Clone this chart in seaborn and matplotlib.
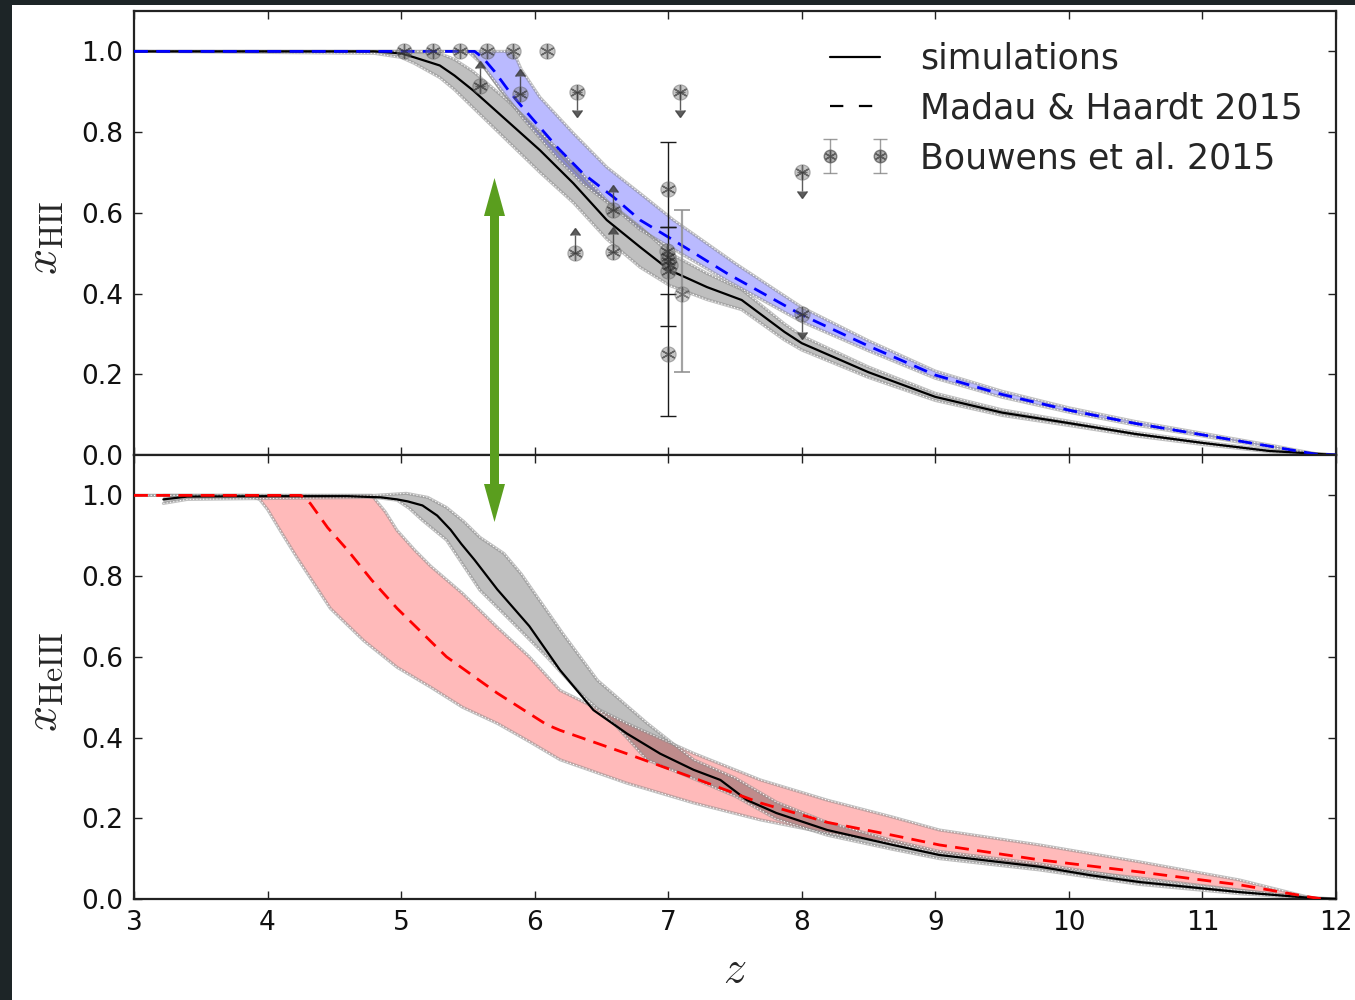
import numpy as np
import matplotlib
matplotlib.use("Agg")
import matplotlib.pyplot as plt
import seaborn as sns
from matplotlib.lines import Line2D
from matplotlib.patches import Rectangle, FancyArrow
from matplotlib.legend_handler import HandlerTuple

# ---------------- hydrogen (x_HII) ----------------
z_hii_sim = [3.0, 4.8, 5.0, 5.1, 5.29, 5.4, 5.54, 5.79, 6.04, 6.29, 6.54, 6.79, 7.01,
             7.29, 7.55, 7.87, 8.0, 8.5, 9.0, 9.5, 10.0, 10.5, 11.0, 11.5, 12.0]
hii_sim = [1.0, 1.0, 0.995, 0.985, 0.965, 0.94, 0.903, 0.829, 0.755, 0.673, 0.582, 0.515, 0.458,
           0.416, 0.384, 0.305, 0.277, 0.205, 0.144, 0.105, 0.079, 0.052, 0.03, 0.01, 0.0]
hii_sim_hi = [1.0, 1.0, 1.0, 0.998, 0.995, 0.98, 0.95, 0.88, 0.80, 0.72, 0.63, 0.565, 0.50,
              0.45, 0.41, 0.325, 0.295, 0.218, 0.153, 0.112, 0.084, 0.056, 0.033, 0.012, 0.0]
hii_sim_lo = [1.0, 0.995, 0.985, 0.97, 0.935, 0.905, 0.86, 0.78, 0.70, 0.625, 0.535, 0.465, 0.42,
              0.385, 0.36, 0.285, 0.26, 0.192, 0.135, 0.098, 0.073, 0.047, 0.026, 0.008, 0.0]
z_hii_run = [5.54, 5.74, 6.11, 6.41, 6.79, 7.04]
hii_run = [0.995, 0.903, 0.772, 0.664, 0.565, 0.50]

z_hii_mh = [3.0, 5.55, 5.61, 5.7, 5.8, 5.91, 6.17, 6.36, 6.59, 6.79, 7.04, 7.44, 8.0,
            8.5, 9.0, 9.5, 10.0, 10.5, 11.0, 11.5, 11.85, 12.0]
hii_mh = [1.0, 1.0, 0.985, 0.95, 0.905, 0.861, 0.762, 0.698, 0.639, 0.582, 0.532, 0.45, 0.347,
          0.27, 0.198, 0.15, 0.111, 0.078, 0.05, 0.022, 0.002, 0.0]
z_hii_mh_hi = [3.0, 5.82, 5.86, 5.9, 6.04, 6.29, 6.54, 6.79, 7.04, 7.5, 8.0, 8.5, 9.0, 9.5,
               10.0, 10.5, 11.0, 11.5, 11.85, 12.0]
hii_mh_hi = [1.0, 1.0, 0.985, 0.955, 0.886, 0.797, 0.713, 0.648, 0.582, 0.475, 0.366, 0.283,
             0.208, 0.158, 0.117, 0.083, 0.054, 0.025, 0.003, 0.0]
z_hii_mh_lo = [3.0, 5.5, 5.6, 5.91, 6.17, 6.36, 6.59, 6.79, 7.04, 7.44, 8.0, 8.5, 9.0,
               9.5, 10.0, 10.5, 11.0, 11.5, 11.85, 12.0]
hii_mh_lo = [1.0, 1.0, 0.97, 0.835, 0.735, 0.672, 0.614, 0.558, 0.51, 0.432, 0.33, 0.258,
             0.19, 0.143, 0.106, 0.074, 0.047, 0.019, 0.001, 0.0]

# Bouwens et al. 2015 constraints
bw_z_plain = [5.02, 5.24, 5.44, 5.64, 5.84, 6.09, 6.99, 7.0, 7.01, 7.0]
bw_v_plain = [1.0, 1.0, 1.0, 1.0, 1.0, 1.0, 0.505, 0.49, 0.47, 0.455]
bw_z_lower = [5.59, 5.89, 6.30, 6.59, 6.59]
bw_v_lower = [0.915, 0.895, 0.50, 0.503, 0.607]
bw_z_upper = [6.32, 7.09, 8.0, 8.0]
bw_v_upper = [0.90, 0.90, 0.70, 0.35]
bw_z_meas = [7.0, 7.0, 7.0]
bw_v_meas = [0.66, 0.48, 0.25]
bw_meas_lo = [0.565, 0.32, 0.097]
bw_meas_hi = [0.775, 0.565, 0.40]
bw_z_faint = [7.1]
bw_v_faint = [0.40]
bw_faint_lo = [0.205]
bw_faint_hi = [0.606]

# ---------------- helium (x_HeIII) ----------------
z_heiii_sim = [3.22, 3.4, 4.0, 4.6, 4.85, 4.97, 5.05, 5.16, 5.27, 5.37, 5.45, 5.55, 5.72,
               5.96, 6.19, 6.44, 6.69, 6.94, 7.19, 7.39, 7.59, 7.81, 8.19, 8.68, 9.03,
               9.78, 10.16, 10.53, 11.28, 11.8, 12.0]
heiii_sim = [0.99, 0.997, 0.998, 0.998, 0.995, 0.99, 0.985, 0.975, 0.95, 0.915, 0.88, 0.84,
             0.767, 0.676, 0.567, 0.468, 0.41, 0.36, 0.32, 0.295, 0.245, 0.213, 0.171,
             0.134, 0.109, 0.08, 0.059, 0.042, 0.017, 0.003, 0.0]
z_heiii_sim_hi = [3.22, 3.4, 4.8, 5.04, 5.2, 5.34, 5.47, 5.59, 5.77, 5.9, 6.02, 6.21, 6.47,
                  6.84, 7.19, 7.5, 7.81, 8.19, 8.68, 9.03, 9.78, 10.53, 11.28, 11.8, 12.0]
heiii_sim_hi = [1.0, 1.0, 1.0, 1.005, 0.995, 0.97, 0.935, 0.896, 0.856, 0.805, 0.748, 0.658,
                0.542, 0.436, 0.345, 0.30, 0.24, 0.19, 0.145, 0.118, 0.087, 0.048, 0.021,
                0.004, 0.0]
z_heiii_sim_lo = [3.22, 3.4, 4.8, 4.97, 5.06, 5.16, 5.34, 5.59, 5.84, 6.09, 6.34, 6.59,
                  6.84, 7.19, 7.5, 7.81, 8.19, 8.68, 9.03, 9.78, 10.53, 11.28, 11.8, 12.0]
heiii_sim_lo = [0.98, 0.99, 0.995, 0.988, 0.968, 0.938, 0.889, 0.765, 0.683, 0.60, 0.51,
                0.436, 0.345, 0.298, 0.255, 0.198, 0.158, 0.123, 0.10, 0.072, 0.036,
                0.013, 0.002, 0.0]

z_heiii_mh = [3.0, 4.25, 4.32, 4.45, 4.6, 4.78, 4.97, 5.34, 5.72, 6.09, 6.19, 6.69, 7.19,
              7.69, 8.19, 8.68, 9.03, 9.78, 10.53, 11.28, 11.8, 11.9]
heiii_mh = [1.0, 1.0, 0.98, 0.92, 0.864, 0.79, 0.72, 0.60, 0.51, 0.432, 0.418, 0.36, 0.30,
            0.238, 0.19, 0.158, 0.134, 0.097, 0.067, 0.035, 0.005, 0.0]
z_heiii_mh_hi = [3.0, 4.78, 4.88, 4.97, 5.1, 5.22, 5.46, 5.72, 5.96, 6.19, 6.69, 7.19,
                 7.69, 8.19, 8.68, 9.03, 9.78, 10.53, 11.28, 11.85, 12.0]
heiii_mh_hi = [1.0, 1.0, 0.96, 0.913, 0.865, 0.825, 0.757, 0.673, 0.60, 0.517, 0.435, 0.361,
               0.295, 0.245, 0.203, 0.171, 0.134, 0.092, 0.047, 0.0, 0.0]
z_heiii_mh_lo = [3.0, 3.85, 3.94, 4.0, 4.1, 4.22, 4.47, 4.72, 4.97, 5.22, 5.46, 5.72, 5.96,
                 6.19, 6.69, 7.19, 7.69, 8.19, 8.68, 9.03, 9.78, 10.53, 11.28, 11.8, 12.0]
heiii_mh_lo = [1.0, 1.0, 0.99, 0.965, 0.91, 0.846, 0.72, 0.64, 0.574, 0.525, 0.475, 0.435,
               0.39, 0.345, 0.287, 0.238, 0.196, 0.163, 0.139, 0.114, 0.08, 0.052, 0.022,
               0.002, 0.0]

x_ticks = [3, 4, 5, 6, 7, 8, 9, 10, 11, 12]
y_ticks = [0.0, 0.2, 0.4, 0.6, 0.8, 1.0]
legend_labels = ["simulations", "Madau & Haardt 2015", "Bouwens et al. 2015"]

# ---------------- style ----------------
sns.set_style("ticks")
plt.rcParams.update({
    "font.family": ["DejaVu Sans"],
    "mathtext.fontset": "cm",
    "xtick.direction": "in", "ytick.direction": "in",
    "xtick.top": True, "ytick.right": True,
    "xtick.bottom": True, "ytick.left": True,
    "xtick.major.size": 6, "ytick.major.size": 6,
    "xtick.major.width": 1.0, "ytick.major.width": 1.0,
    "xtick.minor.visible": False, "ytick.minor.visible": False,
    "axes.linewidth": 1.6, "axes.edgecolor": "#222222",
    "xtick.color": "#222222", "ytick.color": "#222222",
    "xtick.labelcolor": "#111111", "ytick.labelcolor": "#111111",
    "xtick.labelsize": 19, "ytick.labelsize": 19,
    "xtick.major.pad": 8, "ytick.major.pad": 8,
    "axes.grid": False,
})

fig = plt.figure(figsize=(13.55, 10.0), dpi=100, facecolor="white")
ax_top = fig.add_axes([134 / 1355, 0.545, 1202 / 1355, 0.444])
ax_bot = fig.add_axes([134 / 1355, 0.101, 1202 / 1355, 0.444], sharex=ax_top)

DASH = (0, (5, 3))
STAR = (6, 2, 0)


def band(ax, z_hi, v_hi, z_lo, v_lo, color, alpha):
    zz = np.r_[z_hi, z_lo[::-1]]
    vv = np.r_[v_hi, v_lo[::-1]]
    ax.fill(zz, vv, color=color, alpha=alpha, lw=0, zorder=1)
    for z, v in ((z_hi, v_hi), (z_lo, v_lo)):
        sns.lineplot(x=z, y=v, ax=ax, color="0.55", lw=2.2, alpha=0.55,
                     estimator=None, sort=False, zorder=2)
        sns.lineplot(x=z, y=v, ax=ax, color="white", lw=0.8, linestyle=(0, (1, 2)),
                     estimator=None, sort=False, zorder=2)


def markers(ax, z, v, zorder=5, alpha=1.0):
    sns.scatterplot(x=z, y=v, ax=ax, marker="o", s=120, color="0.5", alpha=0.45 * alpha,
                    edgecolor="0.35", linewidth=0.8, zorder=zorder, legend=False)
    sns.scatterplot(x=z, y=v, ax=ax, marker=STAR, s=90, color="0.15", alpha=0.6 * alpha,
                    linewidth=1.0, zorder=zorder + 0.1, legend=False)


# ---------------- top panel ----------------
band(ax_top, z_hii_sim, hii_sim_hi, z_hii_sim, hii_sim_lo, "black", 0.25)
band(ax_top, z_hii_mh_hi, hii_mh_hi, z_hii_mh_lo, hii_mh_lo, "blue", 0.27)
sns.lineplot(x=z_hii_run, y=hii_run, ax=ax_top, color="0.55", lw=1.0, alpha=0.8,
             estimator=None, sort=False, zorder=2)
sns.lineplot(x=z_hii_sim, y=hii_sim, ax=ax_top, color="black", lw=1.6,
             estimator=None, sort=False, zorder=3)
sns.lineplot(x=z_hii_mh, y=hii_mh, ax=ax_top, color="blue", lw=2.0, linestyle=DASH,
             estimator=None, sort=False, zorder=3.5)

# observational constraints
vm = np.array(bw_v_meas)
ax_top.errorbar(bw_z_meas, vm, yerr=[vm - np.array(bw_meas_lo), np.array(bw_meas_hi) - vm],
                fmt="none", ecolor="0.1", elinewidth=1.0, capsize=6, capthick=1.0, zorder=4)
vf = np.array(bw_v_faint)
ax_top.errorbar(bw_z_faint, vf, yerr=[vf - np.array(bw_faint_lo), np.array(bw_faint_hi) - vf],
                fmt="none", ecolor="0.55", elinewidth=1.6, capsize=6, capthick=1.4,
                alpha=0.8, zorder=4)
for zs, vs, key in ((bw_z_lower, bw_v_lower, "lolims"), (bw_z_upper, bw_v_upper, "uplims")):
    eb = ax_top.errorbar(zs, vs, yerr=0.045, fmt="none", color="0.25", ecolor="0.25",
                         elinewidth=1.0, capsize=3.5, alpha=0.85, zorder=4, **{key: True})
    for cap in eb[1]:
        cap.set_color("0.25")
        cap.set_markerfacecolor("0.25")
        cap.set_markeredgecolor("0.25")
markers(ax_top, bw_z_plain, bw_v_plain)
markers(ax_top, bw_z_lower, bw_v_lower)
markers(ax_top, bw_z_upper, bw_v_upper)
markers(ax_top, bw_z_meas, bw_v_meas)
markers(ax_top, bw_z_faint, bw_v_faint, alpha=0.8)

# ---------------- bottom panel ----------------
band(ax_bot, z_heiii_mh_hi, heiii_mh_hi, z_heiii_mh_lo, heiii_mh_lo, "red", 0.27)
band(ax_bot, z_heiii_sim_hi, heiii_sim_hi, z_heiii_sim_lo, heiii_sim_lo, "black", 0.25)
sns.lineplot(x=z_heiii_sim, y=heiii_sim, ax=ax_bot, color="black", lw=1.6,
             estimator=None, sort=False, zorder=3)
sns.lineplot(x=z_heiii_mh, y=heiii_mh, ax=ax_bot, color="red", lw=2.0, linestyle=DASH,
             estimator=None, sort=False, zorder=3.5)

# ---------------- axes ----------------
for ax in (ax_top, ax_bot):
    ax.set_xlim(3, 12)
    ax.set_ylim(0, 1.1)
    ax.set_xticks(x_ticks)
    ax.set_yticks(y_ticks)
    ax.set_yticklabels([f"{t:.1f}" for t in y_ticks])
    for side in ("top", "right", "left", "bottom"):
        ax.spines[side].set_visible(True)
    ax.set_xlabel("")
plt.setp(ax_top.get_xticklabels(), visible=False)
ax_bot.set_xticklabels([str(t) for t in x_ticks])

ax_top.set_ylabel(r"$x_{\rm HII}$", fontsize=33)
ax_bot.set_ylabel(r"$x_{\rm HeIII}$", fontsize=33)
ax_top.yaxis.set_label_coords(-0.056, 0.49)
ax_bot.yaxis.set_label_coords(-0.056, 0.49)
ax_bot.set_xlabel(r"$z$", fontsize=33)
ax_bot.xaxis.set_label_coords(0.5, -0.109)

# ---------------- legend ----------------
h_sim = Line2D([], [], color="black", lw=1.6)
h_mh = Line2D([], [], color="black", lw=1.6, linestyle=(0, (6, 7)))
h_bw = ax_top.errorbar([np.nan], [np.nan], yerr=[0.05], fmt="o", color="0.45", mfc="0.55",
                       mec="0.3", ms=9, alpha=0.7, elinewidth=1.0, capsize=5)
h_bw_star = Line2D([], [], ls="none", marker=STAR, ms=8, mew=1.0, color="0.15", alpha=0.6)
ax_top.legend([h_sim, h_mh, (h_bw, h_bw_star)], legend_labels, loc="upper right",
              bbox_to_anchor=(1.0, 1.005), frameon=False,
              fontsize=25, numpoints=2, handlelength=2.05, handletextpad=0.85,
              labelspacing=0.45, borderaxespad=0.55,
              handler_map={tuple: HandlerTuple(ndivide=1, pad=0)})

# ---------------- annotation arrow ----------------
arrow_mid = (8.22 + 4.78) / 2
for tip in (8.22, 4.78):
    fig.add_artist(FancyArrow(4.945, arrow_mid, 0, tip - arrow_mid, width=0.09,
                              head_width=0.21, head_length=0.38, length_includes_head=True,
                              transform=fig.dpi_scale_trans, color="#5a9e1e", lw=0,
                              zorder=20))

# dark page edges
fig.add_artist(Rectangle((0, 0), 12 / 1355, 1, transform=fig.transFigure,
                         color="#1d2527", lw=0, zorder=30))
fig.add_artist(Rectangle((0, 1 - 5 / 1000), 1, 5 / 1000, transform=fig.transFigure,
                         color="#1d2527", lw=0, zorder=30))

fig.savefig("out.png", dpi=100, facecolor="white")
